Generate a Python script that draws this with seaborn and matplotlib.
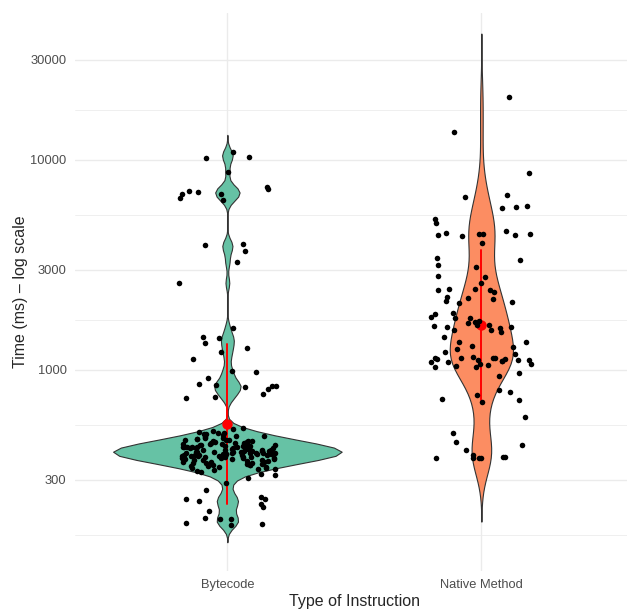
import numpy as np
import pandas as pd
import seaborn as sns
import matplotlib.pyplot as plt
from matplotlib.ticker import FixedLocator, NullFormatter

categories = ['Bytecode', 'Native Method']
colors = ['#66C2A5', '#FC8D62']

# Bytecode times (ms)
bytecode_ms = [
    # upper points
    10880, 10370, 10260, 8770, 7410, 7270, 7140, 7020, 6890, 6850, 6570, 6450,
    3980, 3940, 3700, 3260, 2600,
    1590, 1430, 1420, 1350, 1277, 1214, 1124, 993, 975, 919, 858, 851, 842,
    835, 828, 814, 771, 746, 738,
    # dense cluster
    528, 521, 514, 508, 503, 499,
    496, 493, 489, 486, 483, 479, 476, 474, 471, 468, 466, 464, 462, 460,
    459, 457, 456, 454, 452, 451, 449, 447, 446, 444, 443, 441, 440, 438, 437,
    436, 434, 433, 432, 431, 430, 430,
    429, 428, 427, 425, 424, 423, 422, 421, 420, 418, 418, 417, 415, 414, 413,
    412, 411, 410, 409, 408, 407, 406, 405, 404, 404, 403, 402, 401, 401, 400,
    399, 398, 397, 396, 395, 395, 394, 393, 392, 391, 390, 389, 388, 387, 386,
    385, 384, 383, 382, 381, 380, 379, 378, 377, 375, 374, 373, 372,
    369, 368, 366, 365, 363, 362, 360, 359, 357, 356, 354, 352, 351, 349, 348, 346,
    344, 342, 340, 338, 336, 334, 331, 328,
    # lower tail
    318, 315, 307, 291, 268, 248, 243, 242, 238, 229, 223, 213, 198, 196, 195,
    187, 185, 183,
]

# Native Method times (ms)
native_ms = [
    20000, 13640, 8650, 6810, 6680, 6040, 5890, 5950, 5250, 5000, 4610, 4350,
    4430, 4480, 4420, 4010, 4380, 4370, 4440, 3430, 3330, 3080, 3160, 2800, 2780,
    2400, 2420, 2440, 2600, 2410, 2340, 2210, 2185, 2235, 2080, 2100, 2140,
    1862, 1763, 1717, 1794, 1620, 1638, 1607, 1580, 1600, 1640, 1520, 1775, 1842,
    1687, 1668, 1550, 1431, 1545, 1291, 1259, 1295, 1359, 1355, 1222,
    1104, 1056, 1137, 1140, 1157, 1096, 1048, 1098, 1124, 1135, 1069, 1116, 1070,
    1128, 1138, 1115, 1118, 1095, 1191, 1030, 971, 939, 1032,
    803, 763, 783, 728, 706, 720, 600, 500, 456, 440, 416, 382, 386, 380, 387,
    381, 379, 394,
]

y_ticks = [300, 1000, 3000, 10000, 30000]

df = pd.DataFrame({
    'Type of Instruction': ['Bytecode'] * len(bytecode_ms) + ['Native Method'] * len(native_ms),
    'Time': bytecode_ms + native_ms,
})


def nrd0(kde):
    # R's default bandwidth (bw.nrd0), expressed as a factor of the sd
    x = kde.dataset[0]
    sd = x.std(ddof=1)
    q75, q25 = np.percentile(x, [75, 25])
    h = 0.9 * min(sd, (q75 - q25) / 1.34) * len(x) ** -0.2
    return h / sd


sns.set_style('white')
plt.rcParams['font.family'] = ['Liberation Sans', 'DejaVu Sans']

fig = plt.figure(figsize=(6.27, 6.09), dpi=100)
ax = fig.add_axes([0.1196, 0.0624, 0.8912, 0.9167])

sns.violinplot(data=df, x='Type of Instruction', y='Time', hue='Type of Instruction',
               order=categories, hue_order=categories, palette=colors, saturation=1,
               legend=False, inner=None, cut=3, density_norm='area', common_norm=True,
               width=0.9, linewidth=0.8, linecolor='#333333', bw_method=nrd0,
               log_scale=True, ax=ax)

np.random.seed(3)
sns.stripplot(data=df, x='Type of Instruction', y='Time', order=categories,
              color='black', size=4, jitter=0.2, linewidth=0, ax=ax)

sns.pointplot(data=df, x='Type of Instruction', y='Time', order=categories,
              estimator='mean', errorbar='sd', color='red', linestyle='none',
              markers='o', markersize=7.5, markeredgewidth=0,
              err_kws={'linewidth': 1.4}, ax=ax)

ax.set_xlim(-0.6, 1.6)
ax.set_ylim(110.4, 50200)

ax.yaxis.set_major_locator(FixedLocator(y_ticks))
ax.set_yticklabels([str(t) for t in y_ticks])
minor = [y_ticks[0] / np.sqrt(y_ticks[1] / y_ticks[0])]
minor += [np.sqrt(a * b) for a, b in zip(y_ticks[:-1], y_ticks[1:])]
minor += [y_ticks[-1] * np.sqrt(y_ticks[-1] / y_ticks[-2])]
ax.yaxis.set_minor_locator(FixedLocator(minor))
ax.yaxis.set_minor_formatter(NullFormatter())

ax.grid(True, which='major', color='#EBEBEB', linewidth=1.0)
ax.grid(True, which='minor', axis='y', color='#EBEBEB', linewidth=0.55)
ax.set_axisbelow(True)
for s in ax.spines.values():
    s.set_visible(False)

ax.tick_params(axis='both', which='both', length=0, labelsize=9.3, labelcolor='#4D4D4D')
ax.tick_params(axis='y', pad=6)
ax.tick_params(axis='x', pad=6)
ax.set_xlabel('Type of Instruction', fontsize=11.5, labelpad=2)
ax.set_ylabel('Time (ms) – log scale', fontsize=11.5, labelpad=2)

fig.savefig('out.png', dpi=100)
